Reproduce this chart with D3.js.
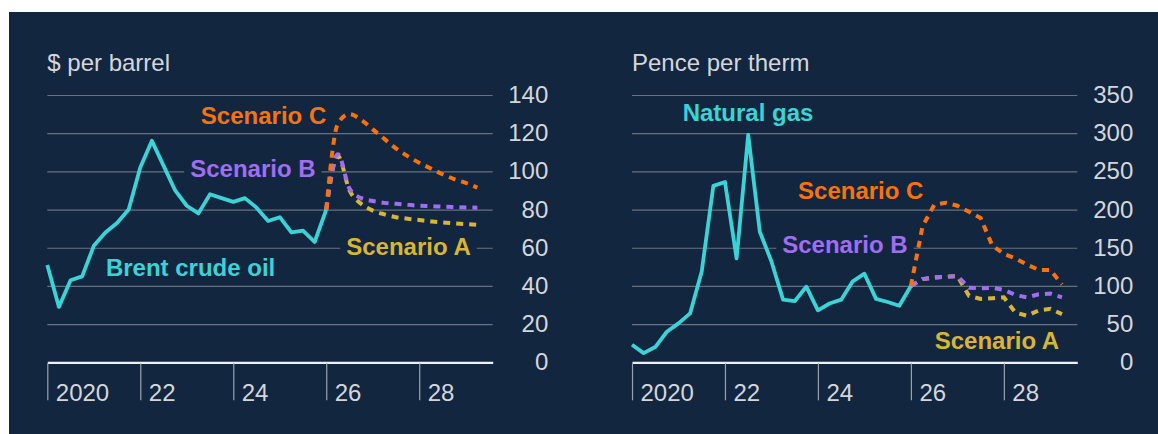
<!DOCTYPE html>
<html>
<head>
<meta charset="utf-8">
<script src="https://cdn.jsdelivr.net/npm/d3@7"></script>
<style>
  body { margin: 0; background: #fff; }
  svg { display: block; font-family: "Liberation Sans", Arial, sans-serif; }
</style>
</head>
<body>
<div id="chart"></div>
<script>
// Data (quarterly, first point = Q1 2020, scenarios start at Q1 2026)
const tickYears = [2020, 2022, 2024, 2026, 2028];
const tickYearLabels = ['2020', '22', '24', '26', '28'];
const oilTicks = [0, 20, 40, 60, 80, 100, 120, 140];
const gasTicks = [0, 50, 100, 150, 200, 250, 300, 350];
const scenarioNames = ['Scenario A', 'Scenario B', 'Scenario C'];

const oilActual = [51, 29, 43, 45, 61, 68, 73, 80, 102, 116, 103, 90, 82, 78, 88, 86, 84, 86, 81, 74, 76, 68, 69, 63, 80];
const oilScenarioA = [80, 108, 90, 83, 79.5, 77.5, 76, 75.2, 74.5, 73.8, 73.2, 72.8, 72.4, 72];
const oilScenarioB = [80, 109, 91, 86, 84.5, 83.5, 83, 82.5, 82, 81.8, 81.5, 81.3, 81.1, 81];
const oilScenarioC = [80, 125, 130, 127, 122, 117, 112, 108, 104.5, 101.5, 98.5, 96, 94, 91.5];

const gasActual = [23, 12, 20, 40, 51, 64, 119, 231, 236, 136, 298, 171, 132, 82, 80, 99, 68, 77, 82, 106, 116, 83, 79, 74, 100];
const gasScenarioA = [100, 109, 111, 112, 113, 87, 83, 84, 85, 65, 61, 68, 70, 63];
const gasScenarioB = [100, 109, 111, 112, 113, 97.5, 97, 97.5, 95, 88, 85, 89, 90, 85];
const gasScenarioC = [100, 178, 206, 209, 205, 197, 189, 153, 142, 136, 128, 121, 121, 102];

const startYear = 2020;
const endYear = 2029.58;
const scenarioStart = 24;

const colors = {
    actual: '#3ad3d6',
    'Scenario A': '#d9b534',
    'Scenario B': '#a16df3',
    'Scenario C': '#fb7208'
};
const panelColor = '#13263f';
const textColor = '#d3d7dc';
const gridColor = '#66727f';
const fontFamily = '"Liberation Sans", Arial, sans-serif';

const dimensions = { width: 1158, height: 434, top: 95, bottom: 362.3 };

const svg = d3.select('#chart')
    .append('svg')
    .attr('width', dimensions.width)
    .attr('height', dimensions.height);

svg.append('rect')
    .attr('x', 9).attr('y', 12)
    .attr('width', dimensions.width - 9).attr('height', dimensions.height - 12)
    .attr('fill', panelColor);

function drawPanel(cfg) {
    const xScale = d3.scaleLinear().domain([startYear, endYear]).range([cfg.left, cfg.right]);
    const yScale = d3.scaleLinear().domain([0, d3.max(cfg.ticks)]).range([dimensions.bottom, dimensions.top]);
    const g = svg.append('g');

    g.append('text')
        .attr('x', cfg.left)
        .attr('y', 70.5)
        .attr('fill', textColor)
        .attr('font-size', 24)
        .text(cfg.title);

    // gridlines
    g.append('g')
        .attr('transform', `translate(${cfg.left},0)`)
        .call(d3.axisRight(yScale).tickValues(cfg.ticks.filter(d => d > 0)).tickSize(cfg.right - cfg.left).tickFormat(''))
        .call(a => a.select('.domain').remove())
        .call(a => a.selectAll('line').attr('stroke', gridColor).attr('stroke-width', 1.2));

    // y labels on the right
    g.append('g')
        .attr('transform', `translate(${cfg.labelX},0)`)
        .call(d3.axisLeft(yScale).tickValues(cfg.ticks).tickSize(0).tickPadding(0))
        .attr('font-family', fontFamily).attr('font-size', 24)
        .call(a => a.select('.domain').remove())
        .call(a => a.selectAll('text').attr('fill', textColor).attr('dy', '0.31em'));

    // x axis
    g.append('g')
        .attr('transform', `translate(0,${dimensions.bottom})`)
        .call(d3.axisBottom(xScale).tickValues(tickYears).tickSize(38).tickSizeOuter(0)
            .tickFormat(d => tickYearLabels[tickYears.indexOf(d)]))
        .attr('font-family', fontFamily).attr('font-size', 24)
        .call(a => a.select('.domain').attr('stroke', '#eef1f4').attr('stroke-width', 2.2))
        .call(a => a.selectAll('.tick line').attr('stroke', '#9aa3ad').attr('stroke-width', 1.2).attr('y1', 1))
        .call(a => a.selectAll('.tick text')
            .attr('fill', textColor).attr('x', 8).attr('y', 39).attr('dy', null).attr('text-anchor', 'start'));

    const bgGroup = g.append('g');
    const linesGroup = g.append('g');
    const labelsGroup = g.append('g');

    const line = offset => d3.line()
        .x((d, i) => xScale(startYear + (offset + i) / 4))
        .y(d => yScale(d))
        .curve(cfg.curve);

    scenarioNames.forEach((name, k) => {
        linesGroup.append('path')
            .datum(cfg.scenarios[k])
            .attr('d', line(scenarioStart))
            .attr('fill', 'none')
            .attr('stroke', colors[name])
            .attr('stroke-width', 4)
            .attr('stroke-dasharray', '7 6');
    });

    linesGroup.append('path')
        .datum(cfg.actual)
        .attr('d', line(0).curve(d3.curveLinear))
        .attr('fill', 'none')
        .attr('stroke', colors.actual)
        .attr('stroke-width', 3.8)
        .attr('stroke-linejoin', 'round');

    cfg.labels.forEach(l => {
        const t = labelsGroup.append('text')
            .attr('x', xScale(l.year))
            .attr('y', yScale(l.value))
            .attr('text-anchor', l.anchor)
            .attr('font-size', 24)
            .attr('font-weight', 'bold')
            .attr('fill', colors[l.key])
            .text(l.text);
        const box = t.node().getBBox();
        bgGroup.append('rect')
            .attr('x', box.x - 6).attr('y', box.y + 3)
            .attr('width', box.width + 12).attr('height', box.height - 6)
            .attr('fill', panelColor);
    });
}

drawPanel({
    title: '$ per barrel',
    left: 47.3, right: 492.7, labelX: 548.3,
    ticks: oilTicks,
    actual: oilActual,
    scenarios: [oilScenarioA, oilScenarioB, oilScenarioC],
    curve: d3.curveMonotoneX,
    labels: [
        { text: 'Scenario C', key: 'Scenario C', year: 2026.0, value: 125, anchor: 'end' },
        { text: 'Scenario B', key: 'Scenario B', year: 2025.77, value: 97, anchor: 'end' },
        { text: 'Brent crude oil', key: 'actual', year: 2021.26, value: 45.3, anchor: 'start' },
        { text: 'Scenario A', key: 'Scenario A', year: 2026.43, value: 56, anchor: 'start' }
    ]
});

drawPanel({
    title: 'Pence per therm',
    left: 632, right: 1077.3, labelX: 1133.3,
    ticks: gasTicks,
    actual: gasActual,
    scenarios: [gasScenarioA, gasScenarioB, gasScenarioC],
    curve: d3.curveLinear,
    labels: [
        { text: 'Natural gas', key: 'actual', year: 2021.09, value: 315.5, anchor: 'start' },
        { text: 'Scenario C', key: 'Scenario C', year: 2026.27, value: 214, anchor: 'end' },
        { text: 'Scenario B', key: 'Scenario B', year: 2025.93, value: 143, anchor: 'end' },
        { text: 'Scenario A', key: 'Scenario A', year: 2029.19, value: 16.8, anchor: 'end' }
    ]
});
</script>
</body>
</html>
